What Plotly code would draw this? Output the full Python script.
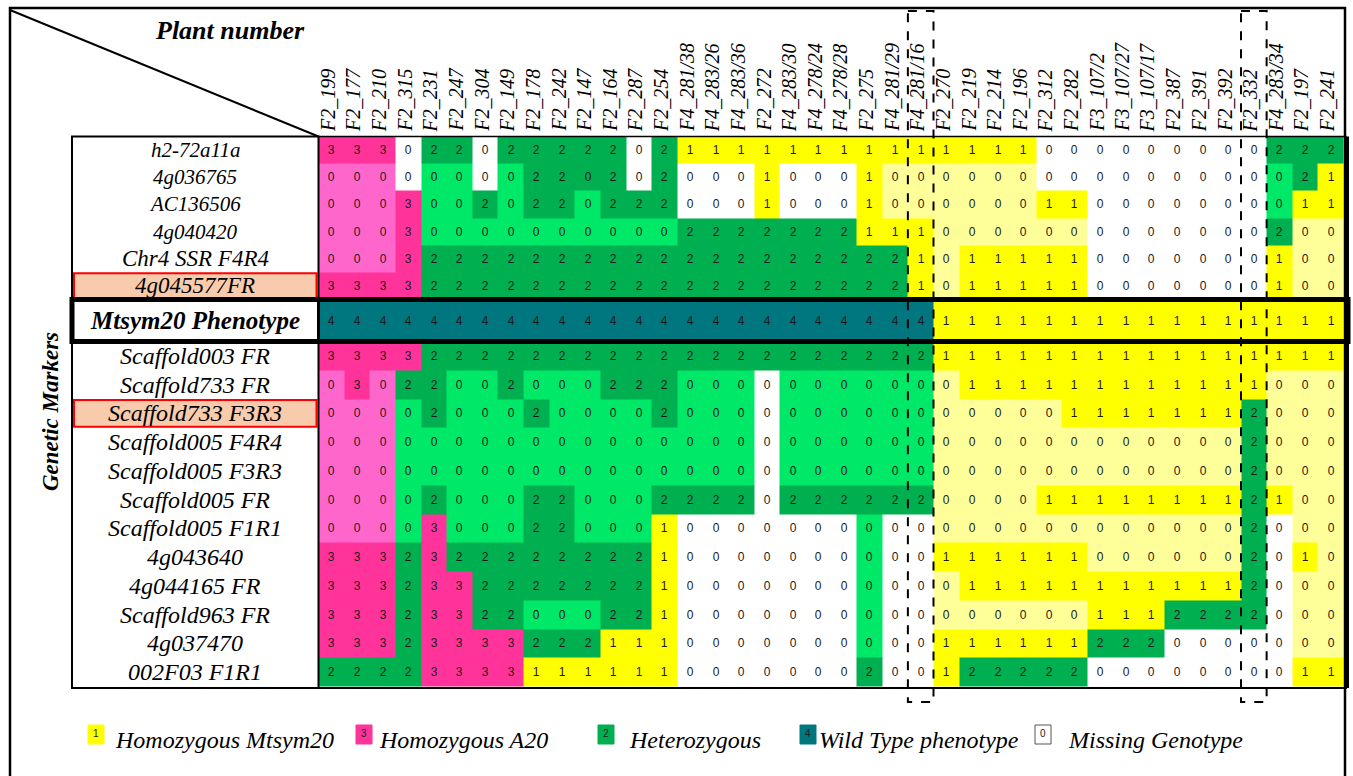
import plotly.graph_objects as go

# ---- data -----------------------------------------------------------------
plants = ["F2_199", "F2_177", "F2_210", "F2_315", "F2_231", "F2_247", "F2_304",
          "F2_149", "F2_178", "F2_242", "F2_147", "F2_164", "F2_287", "F2_254",
          "F4_281/38", "F4_283/26", "F4_283/36", "F2_272", "F4_283/30",
          "F4_278/24", "F4_278/28", "F2_275", "F4_281/29", "F4_281/16",
          "F2_270", "F2_219", "F2_214", "F2_196", "F2_312", "F2_282",
          "F3_107/2", "F3_107/27", "F3_107/17", "F2_387", "F2_391", "F2_392",
          "F2_332", "F4_283/34", "F2_197", "F2_241"]

markers = ["h2-72a11a", "4g036765", "AC136506", "4g040420", "Chr4 SSR F4R4",
           "4g045577FR", "Mtsym20 Phenotype", "Scaffold003 FR", "Scaffold733 FR",
           "Scaffold733 F3R3", "Scaffold005 F4R4", "Scaffold005 F3R3",
           "Scaffold005 FR", "Scaffold005 F1R1", "4g043640", "4g044165 FR",
           "Scaffold963 FR", "4g037470", "002F03 F1R1"]

# genotype score per plant (groups of ten plants)
genotypes = [
    "3330220222 2202111111 1111111100 0000000222",
    "0000000022 0202000100 0100000000 0000000021",
    "0003002022 0222000100 0100000011 0000000011",
    "0003000000 0000222222 2111000000 0000000200",
    "0003222222 2222222222 2221011111 0000000100",
    "3333222222 2222222222 2221011111 0000000100",
    "4444444444 4444444444 4444111111 1111111111",
    "3333222222 2222222222 2222111111 1111111111",
    "0302200200 0222000000 0000011111 1111111000",
    "0000200020 0002000000 0000000001 1111112000",
    "0000000000 0000000000 0000000000 0000002000",
    "0000000000 0000000000 0000000000 0000002000",
    "0000200022 0002222022 2222000011 1111112100",
    "0000300022 0001000000 0000000000 0000002000",
    "3332322222 2221000000 0000111111 0000002010",
    "3332332222 2221000000 0000011111 1111112000",
    "3332332200 0221000000 0000000000 1112222000",
    "3332333322 2111000000 0000111111 2220000000",
    "2222333311 1111000000 0200122222 0000000011",
]

# background group of the missing (0) scores: w none, p A20 side,
# g heterozygous side, y Mtsym20 side, G heterozygous block
missing_shade = [
    "...w..w... ..w....... ........ww wwwwwww...",
    "pppwggwg.. G.w.www.ww w.yyyyyyww wwwwwwwg..",
    "ppp.gg.g.. g...www.ww w.yyyyyy.. wwwwwwwg..",
    "ppp.gggggg gggg...... ....yyyyyy wwwwwww.yy",
    "ppp....... .......... ....y..... wwwwwww.yy",
    ".......... .......... ....y..... wwwwwww.yy",
    ".......... .......... .......... ..........",
    ".......... .......... .......... ..........",
    "p.p..gg.gg g...gggwgg ggggy..... .......yyy",
    "pppg.ggg.g ggg.gggwgg ggggyyyyy. .......yyy",
    "pppggggggg gggggggwgg ggggyyyyyy yyyyyy.yyy",
    "pppggggggg gggggggwgg ggggyyyyyy yyyyyy.yyy",
    "pppg.ggg.. ggg....w.. ....yyyy.. ........yy",
    "pppg.ggg.. ggg.wwwwww wgwwyyyyyy yyyyyy.wyy",
    ".......... ....wwwwww wgww...... yyyyyy.w.y",
    ".......... ....wwwwww wgwwy..... .......wyy",
    "........gg g...wwwwww wgwwyyyyyy .......wyy",
    ".......... ....wwwwww wgww...... ...wwwwwyy",
    ".......... ....wwwwww w.ww...... wwwwwwww..",
]

highlighted_markers = ["4g045577FR", "Scaffold733 F3R3"]
phenotype_marker = "Mtsym20 Phenotype"
boxed_plants = ["F4_281/16", "F2_332"]

legend_codes = ["1", "3", "2", "4", "0"]
legend_labels = ["Homozygous Mtsym20", "Homozygous A20", "Heterozygous",
                 "Wild Type phenotype", "Missing Genotype"]

# ---- styling --------------------------------------------------------------
W, H = 1353, 776
SERIF = "Liberation Serif, Times New Roman, serif"
SANS = "Liberation Sans, Arial, sans-serif"

palette_keys = ["w", "1", "2", "3", "4", "y", "g", "p", "G"]
palette = {"w": "#FFFFFF", "1": "#FFFF00", "2": "#00B050", "3": "#FF3399",
           "4": "#00777F", "y": "#FFFF99", "g": "#00E868", "p": "#FF66CC",
           "G": "#00B050"}

GRID_LEFT, GRID_RIGHT = 318.5, 1343.5
CELL_W = (GRID_RIGHT - GRID_LEFT) / len(plants)
COL0 = GRID_LEFT + CELL_W / 2
LABEL_LEFT = 72
LABEL_MID = 195
TOP, PHEN_TOP, PHEN_BOT, BOTTOM = 136.5, 299.5, 341.5, 686.5

n_top = markers.index(phenotype_marker)
n_bot = len(markers) - n_top - 1
y_edges = [TOP + k * (PHEN_TOP - TOP) / n_top for k in range(n_top + 1)]
y_edges += [PHEN_BOT + k * (BOTTOM - PHEN_BOT) / n_bot for k in range(n_bot + 1)]
y_mid = [(y_edges[i] + y_edges[i + 1]) / 2 for i in range(len(markers))]

geno = [g.replace(" ", "") for g in genotypes]
shade = [s.replace(" ", "") for s in missing_shade]

z, txt = [], []
for g_row, s_row in zip(geno, shade):
    zr = []
    for v, s in zip(g_row, s_row):
        key = s if v == "0" else v
        zr.append(palette_keys.index(key))
    z.append(zr)
    txt.append(list(g_row))

n = len(palette_keys)
colorscale = []
for i, k in enumerate(palette_keys):
    colorscale.append([i / n, palette[k]])
    colorscale.append([(i + 1) / n, palette[k]])

fig = go.Figure()

fig.add_trace(go.Heatmap(
    z=z, x=list(range(len(plants))), y=y_edges, text=txt,
    texttemplate="%{text}", textfont=dict(family=SANS, size=12, color="#1a1a1a"),
    colorscale=colorscale, zmin=-0.5, zmax=n - 0.5, showscale=False,
    hoverinfo="skip", xgap=0, ygap=0,
))


def px(p):
    return p / W


shapes = []
ann = []

# highlighted marker cells
for m in highlighted_markers:
    i = markers.index(m)
    shapes.append(dict(type="rect", xref="paper", yref="y",
                       x0=px(LABEL_LEFT + 2), x1=px(GRID_LEFT - 2),
                       y0=y_edges[i] + 1, y1=y_edges[i + 1] - 1,
                       fillcolor="#F8CBAD", line=dict(color="#FF0000", width=2),
                       layer="below"))

# outer frame and header diagonal
shapes.append(dict(type="rect", xref="paper", yref="y", x0=px(10), x1=px(1345),
                   y0=8, y1=800, line=dict(color="black", width=2.5)))
shapes.append(dict(type="line", xref="paper", yref="y", x0=px(10), y0=10,
                   x1=px(GRID_LEFT), y1=TOP, line=dict(color="black", width=2)))

# marker label column and grid outline
shapes.append(dict(type="rect", xref="paper", yref="y", x0=px(LABEL_LEFT),
                   x1=px(GRID_LEFT), y0=TOP, y1=BOTTOM + 1.5,
                   line=dict(color="black", width=2)))
shapes.append(dict(type="line", xref="paper", yref="y", x0=px(GRID_LEFT),
                   x1=px(GRID_RIGHT + 3), y0=TOP, y1=TOP,
                   line=dict(color="black", width=1.5)))
shapes.append(dict(type="line", xref="paper", yref="y", x0=px(LABEL_LEFT),
                   x1=px(1347), y0=BOTTOM + 1.5, y1=BOTTOM + 1.5,
                   line=dict(color="black", width=2)))
shapes.append(dict(type="line", xref="paper", yref="y", x0=px(1346.5),
                   x1=px(1346.5), y0=TOP, y1=BOTTOM + 1.5,
                   line=dict(color="black", width=5)))

# phenotype row frame
shapes.append(dict(type="rect", xref="paper", yref="y", x0=px(LABEL_LEFT),
                   x1=px(1348), y0=PHEN_TOP, y1=PHEN_BOT,
                   line=dict(color="black", width=5)))
shapes.append(dict(type="line", xref="paper", yref="y", x0=px(GRID_LEFT),
                   x1=px(GRID_LEFT), y0=PHEN_TOP, y1=PHEN_BOT,
                   line=dict(color="black", width=3)))

# dashed boxes around selected plants
for p in boxed_plants:
    j = plants.index(p)
    shapes.append(dict(type="rect", xref="x", yref="y", x0=j - 0.5, x1=j + 0.5,
                       y0=11, y1=702, line=dict(color="black", width=2, dash="dash")))

# headings
ann.append(dict(text="<b><i>Plant number</i></b>", xref="paper", yref="y",
                x=px(230), y=30, showarrow=False, xanchor="center", yanchor="middle",
                font=dict(family=SERIF, size=26, color="black")))
ann.append(dict(text="<b><i>Genetic Markers</i></b>", xref="paper", yref="y",
                x=px(50), y=412, showarrow=False, textangle=-90,
                xanchor="center", yanchor="middle",
                font=dict(family=SERIF, size=23, color="black")))

# plant labels
for j, p in enumerate(plants):
    ann.append(dict(text="<i>" + p + "</i>", xref="x", yref="y", x=j - 0.15, y=134,
                    showarrow=False, textangle=-90, xanchor="center",
                    yanchor="bottom", font=dict(family=SERIF, size=20, color="black")))

# marker labels: the lower block is typeset a little larger
for i, m in enumerate(markers):
    if m == phenotype_marker:
        label, size = "<b><i>" + m + "</i></b>", 25
    elif i < n_top - 2:
        label, size = "<i>" + m + "</i>", 21
    elif i < n_top:
        label, size = "<i>" + m + "</i>", 23
    else:
        label, size = "<i>" + m + "</i>", 24
    ann.append(dict(text=label, xref="paper", yref="y", x=px(LABEL_MID), y=y_mid[i],
                    showarrow=False, xanchor="center", yanchor="middle",
                    font=dict(family=SERIF, size=size, color="black")))

# legend
legend_box_x = [88, 356, 598, 800, 1035]
legend_text_x = [113, 377, 627, 817, 1066]
for code, lab, bx, tx in zip(legend_codes, legend_labels, legend_box_x, legend_text_x):
    shapes.append(dict(type="rect", xref="paper", yref="y", x0=px(bx), x1=px(bx + 16),
                       y0=725, y1=744, fillcolor=palette["w" if code == "0" else code],
                       line=dict(color="#555555" if code == "0" else palette[code],
                                 width=1)))
    ann.append(dict(text=code, xref="paper", yref="y", x=px(bx + 8), y=733,
                    showarrow=False, xanchor="center", yanchor="middle",
                    font=dict(family=SANS, size=10, color="#222222")))
    ann.append(dict(text="<i>" + lab + "</i>", xref="paper", yref="y", x=px(tx),
                    y=740, xanchor="left", yanchor="middle", showarrow=False,
                    font=dict(family=SERIF, size=24, color="black")))

fig.update_layout(
    template="none",
    width=W, height=H, margin=dict(l=0, r=0, t=0, b=0),
    paper_bgcolor="white", plot_bgcolor="white",
    xaxis=dict(range=[(0 - COL0) / CELL_W, (W - COL0) / CELL_W], visible=False,
               fixedrange=True),
    yaxis=dict(range=[H, 0], visible=False, fixedrange=True),
    shapes=shapes, annotations=ann, showlegend=False,
)

fig.write_html("out.html")
